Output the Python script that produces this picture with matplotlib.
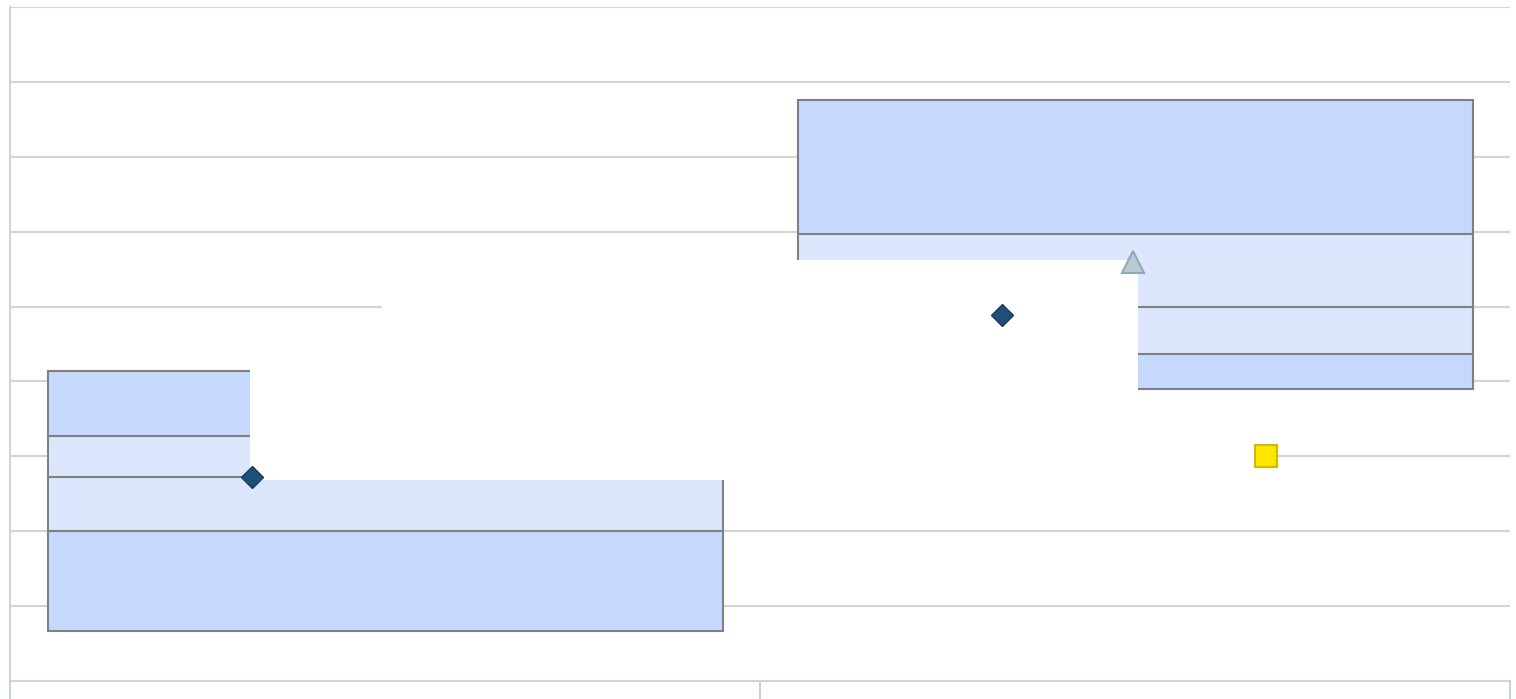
import matplotlib
matplotlib.use("Agg")
import matplotlib.pyplot as plt
from matplotlib.patches import Rectangle

# two categories, five box levels each (min, q1, median, q3, max)
positions = [0, 1]
box_levels = [
    [0.67, 2.0, 2.72, 3.27, 4.14],
    [3.90, 4.37, 4.99, 5.97, 7.76],
]
mean_x = [-0.177, 0.823]
mean_y = [2.72, 4.89]
tri_x = [0.997]
tri_y = [5.59]
sq_x = [1.175]
sq_y = [3.0]

outer_col = "#c5d8fe"
inner_col = "#dce7fd"
edge_col = "#808080"
grid_col = "#d4d4d4"
tick_col = "#c3d2e2"


def program_main():
    fig = plt.figure(figsize=(15.16, 6.99), dpi=100)
    ax = fig.add_axes([10 / 1516, 18 / 699, 1500 / 1516, 674 / 699])

    for pos, lv in zip(positions, box_levels):
        cols = [outer_col, inner_col, inner_col, outer_col]
        for k in range(4):
            ax.bar(pos, lv[k + 1] - lv[k], bottom=lv[k], width=0.9,
                   color=cols[k], edgecolor=edge_col, linewidth=1.5, zorder=2)

    # blank white patches covering part of the plot (as in the source image)
    for (x0, y0, x1, y1) in [(-0.004, 2.68, 1.004, 5.62),
                             (-0.18, 2.68, -0.004, 4.82),
                             (1.004, 2.68, 1.159, 3.87)]:
        ax.add_patch(Rectangle((x0, y0), x1 - x0, y1 - y0, facecolor="white",
                               edgecolor="none", zorder=3))

    ax.plot(mean_x, mean_y, "D", ms=11, color="#1f4e79", mec="#173d5e",
            mew=1, zorder=5, clip_on=False)
    ax.plot(tri_x, tri_y, "^", ms=16, color="#b8cbd5", mec="#93a7b3",
            mew=1.5, zorder=5)
    ax.plot(sq_x, sq_y, "s", ms=16, color="#ffe600", mec="#d4b800",
            mew=1.5, zorder=5)

    ax.set_xlim(-0.5, 1.5)
    ax.set_ylim(0, 9)
    ax.set_yticks(range(10))
    ax.set_xticks([-0.5, 0.5, 1.5])
    ax.set_xticklabels([])
    ax.set_yticklabels([])
    ax.tick_params(axis="y", length=0)
    ax.tick_params(axis="x", length=13, width=1.5, color=tick_col)
    ax.grid(axis="y", color=grid_col, linewidth=1.5, zorder=0)
    ax.set_axisbelow(True)

    for s in ["top", "right"]:
        ax.spines[s].set_visible(False)
    ax.spines["left"].set_color(grid_col)
    ax.spines["bottom"].set_color(grid_col)
    ax.spines["left"].set_linewidth(1.5)
    ax.spines["bottom"].set_linewidth(1.5)

    fig.savefig("out.png", dpi=100)


program_main()
